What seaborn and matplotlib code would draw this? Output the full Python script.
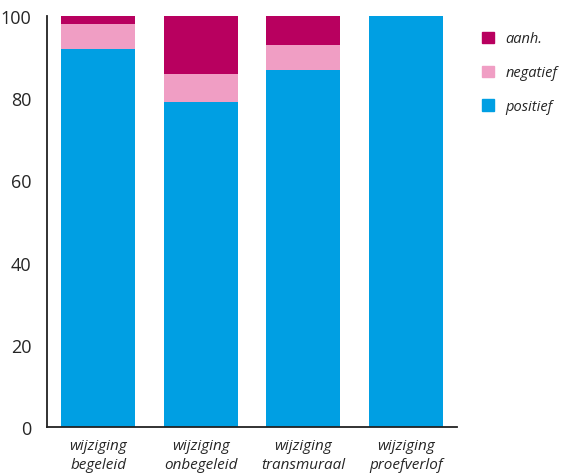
import pandas as pd
import numpy as np
import seaborn as sns
import matplotlib.pyplot as plt
from matplotlib.patches import Patch

# data
categorieen = ['wijziging\nbegeleid', 'wijziging\nonbegeleid', 'wijziging\ntransmuraal', 'wijziging\nproefverlof']
positief = [92, 79, 87, 100]
negatief = [6, 7, 6, 0]
aanh = [2, 14, 7, 0]

kleuren = {'aanh.': '#B8005F', 'negatief': '#F09EC4', 'positief': '#009FE3'}

df = pd.DataFrame({'cat': categorieen, 'positief': positief, 'negatief': negatief, 'aanh.': aanh})
df['cum_neg'] = df['positief'] + df['negatief']
df['cum_aanh'] = df['cum_neg'] + df['aanh.']

sns.set_style('white')
plt.rcParams['font.family'] = ['Open Sans', 'DejaVu Sans']

fig = plt.figure(figsize=(5.65, 4.77), dpi=100)
ax = fig.add_axes([0.083, 0.103, 0.726, 0.861])

# gestapeld: bovenste laag eerst tekenen
for kol, laag in [('cum_aanh', 'aanh.'), ('cum_neg', 'negatief'), ('positief', 'positief')]:
    sns.barplot(data=df, x='cat', y=kol, color=kleuren[laag], width=0.72, ax=ax,
                saturation=1, linewidth=0, edgecolor='none')

ax.set_xlim(-0.5, 3.5)
ax.set_ylim(0, 100)
ax.set_yticks([0, 20, 40, 60, 80, 100])
ax.set_xlabel('')
ax.set_ylabel('')
sns.despine(ax=ax)
for s in ['left', 'bottom']:
    ax.spines[s].set_linewidth(1.3)
    ax.spines[s].set_color('#222222')
ax.tick_params(axis='y', length=7, width=1.3, color='#222222', labelsize=13, pad=4)
ax.tick_params(axis='x', length=0, labelsize=11, pad=8)
for t in ax.get_xticklabels():
    t.set_fontstyle('italic')
    t.set_linespacing(1.4)

handles = [Patch(color=kleuren[k]) for k in ['aanh.', 'negatief', 'positief']]
leg = fig.legend(handles, ['aanh.', 'negatief', 'positief'], loc='upper left',
                 bbox_to_anchor=(0.83, 0.96), frameon=False, handlelength=0.8,
                 handleheight=0.8, labelspacing=1.3, handletextpad=0.8,
                 prop={'style': 'italic', 'size': 10.5})

fig.savefig('out.png', dpi=100)
